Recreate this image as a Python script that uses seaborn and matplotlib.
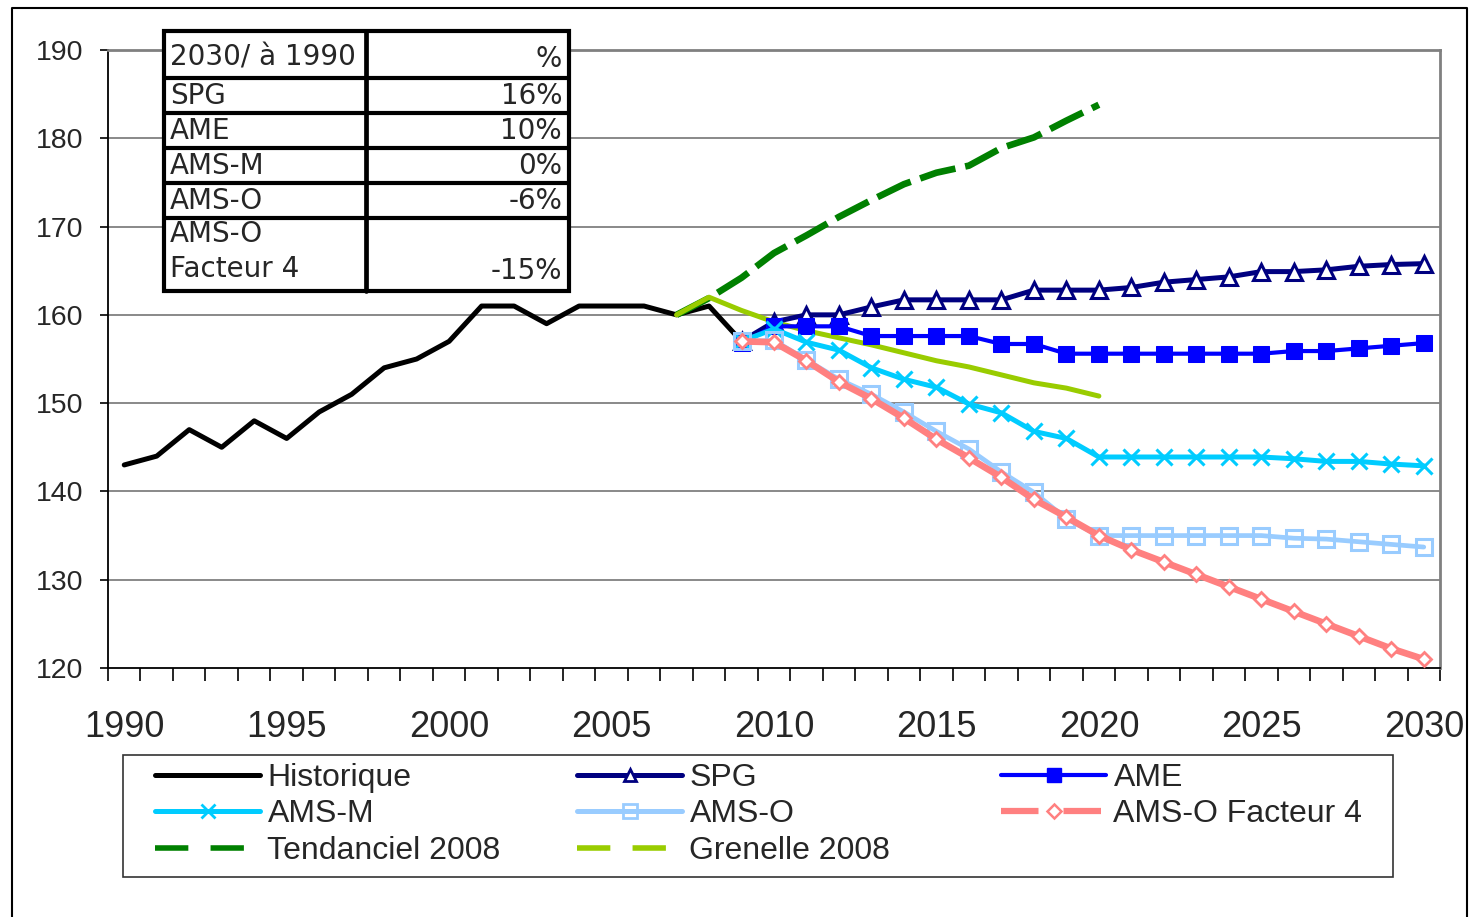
import numpy as np
import pandas as pd
import matplotlib
matplotlib.use("Agg")
import matplotlib.pyplot as plt
from matplotlib.lines import Line2D
from matplotlib.patches import Rectangle
import seaborn as sns

# ---------------- data ----------------
hist_years = list(range(1990, 2010))
historique = [143, 144, 147, 145, 148, 146, 149, 151, 154, 155,
              157, 161, 161, 159, 161, 161, 161, 160, 161, 157]

trend_years = list(range(2007, 2021))
tendanciel = [160, 161.9, 164.2, 167, 169, 171.1, 173, 174.8, 176.1, 176.9,
              178.9, 180.1, 182, 183.8]
grenelle = [160, 162, 160.5, 159.2, 158.2, 157.4, 156.6, 155.7, 154.8, 154.1,
            153.2, 152.3, 151.7, 150.8]

scen_years = list(range(2009, 2031))
spg = [157, 159.2, 160, 160, 160.9, 161.7, 161.7, 161.7, 161.7, 162.8, 162.8,
       162.8, 163.1, 163.7, 164, 164.3, 164.9, 164.9, 165.1, 165.5, 165.7, 165.8]
ame = [156.8, 158.7, 158.7, 158.7, 157.6, 157.6, 157.6, 157.6, 156.7, 156.7, 155.6,
       155.6, 155.6, 155.6, 155.6, 155.6, 155.6, 155.9, 155.9, 156.2, 156.5, 156.8]
ams_m = [157, 158.4, 156.9, 156.0, 154.0, 152.7, 151.8, 149.9, 148.9, 146.8, 146.0,
         143.9, 143.9, 143.9, 143.9, 143.9, 143.9, 143.7, 143.4, 143.4, 143.1, 142.9]
ams_o = [157, 157.1, 154.9, 152.7, 151.0, 149.0, 146.8, 144.8, 142.2, 139.9, 136.9,
         135.0, 135.0, 135.0, 135.0, 135.0, 135.0, 134.7, 134.6, 134.3, 134.0, 133.7]
facteur4 = [157, 156.9, 154.8, 152.4, 150.5, 148.3, 145.9, 143.8, 141.6, 139.1, 137.1,
            135.0, 133.4, 132.0, 130.6, 129.2, 127.8, 126.4, 125.0, 123.6, 122.2, 121.0]

table_header = ["2030/ à 1990", "%"]
table_rows = ["SPG", "AME", "AMS-M", "AMS-O", "AMS-O\nFacteur 4"]
table_vals = ["16%", "10%", "0%", "-6%", "-15%"]

x_ticks = list(range(1990, 2031, 5))
y_ticks = list(range(120, 191, 10))

# ---------------- style ----------------
sns.set_style("white")
plt.rcParams["font.family"] = ["Liberation Sans", "DejaVu Sans"]

W, H = 1472, 917
fig = plt.figure(figsize=(W / 100, H / 100), dpi=100)


def fx(px):
    return px / W


def fy(py):
    return 1 - py / H


ax = fig.add_axes([fx(108), fy(668), (1440 - 108) / W, (668 - 50) / H])

# gridlines
for v in y_ticks[1:]:
    ax.axhline(v, color="#808080", lw=1.3, zorder=0.5)

# ---------------- series ----------------
df_hist = pd.DataFrame({"year": hist_years, "v": historique})
df_trend = pd.DataFrame({"year": trend_years, "tend": tendanciel, "gren": grenelle})
df_scen = pd.DataFrame({"year": scen_years, "spg": spg, "ame": ame, "amsm": ams_m,
                        "amso": ams_o, "f4": facteur4})

sns.lineplot(data=df_hist, x="year", y="v", color="black", lw=3.6, ax=ax, zorder=3)
sns.lineplot(data=df_trend, x="year", y="tend", color="#008000", lw=4.8,
             linestyle=(0, (5.5, 1.5)), ax=ax, zorder=3)
sns.lineplot(data=df_trend, x="year", y="gren", color="#99CC00", lw=3.6, ax=ax, zorder=3)
sns.lineplot(data=df_scen, x="year", y="spg", color="#000080", lw=3.6, marker="^",
             markersize=11.5, markerfacecolor="white", markeredgecolor="#000080",
             markeredgewidth=2.2, ax=ax, zorder=4)
sns.lineplot(data=df_scen, x="year", y="ame", color="#0000FF", lw=3.0, marker="s",
             markersize=11, markerfacecolor="#0000FF", markeredgecolor="#0000FF",
             ax=ax, zorder=4)
sns.lineplot(data=df_scen, x="year", y="amsm", color="#00CCFF", lw=3.6, marker="x",
             markersize=12, markeredgecolor="#00CCFF", markeredgewidth=2.2,
             ax=ax, zorder=4)
sns.lineplot(data=df_scen, x="year", y="amso", color="#99CCFF", lw=3.4, marker="s",
             markersize=11.5, markerfacecolor="none", markeredgecolor="#99CCFF",
             markeredgewidth=2.2, ax=ax, zorder=4)
sns.lineplot(data=df_scen, x="year", y="f4", color="#FF8080", lw=4.8, marker="D",
             markersize=7.5, markerfacecolor="white", markeredgecolor="#FF8080",
             markeredgewidth=2.0, ax=ax, zorder=5)

# ---------------- axes ----------------
ax.set_xlim(1989.5, 2030.5)
ax.set_ylim(120, 190)
ax.set_xlabel("")
ax.set_ylabel("")
ax.set_yticks(y_ticks)
ax.set_yticklabels([str(v) for v in y_ticks], fontsize=20.5)
ax.set_xticks(x_ticks)
ax.set_xticklabels([str(v) for v in x_ticks], fontsize=26)
ax.set_xticks(np.arange(1989.5, 2031, 1), minor=True)
ax.tick_params(axis="x", which="major", length=0, pad=30)
ax.tick_params(axis="x", which="minor", length=9, width=1.2, color="black",
               direction="out", bottom=True)
ax.tick_params(axis="y", which="major", length=6, width=1.2, color="black",
               direction="out", left=True, pad=12)
for s in ["left", "bottom"]:
    ax.spines[s].set_color("black")
    ax.spines[s].set_linewidth(1.3)
for s in ["right", "top"]:
    ax.spines[s].set_color("#808080")
    ax.spines[s].set_linewidth(2)
ax.grid(False)

# ---------------- legend ----------------
def h(color, lw, ls="-", **kw):
    return Line2D([], [], color=color, lw=lw, linestyle=ls, **kw)


col1 = [h("black", 3.6),
        h("#00CCFF", 3.6, marker="x", markersize=10, markeredgewidth=2),
        h("#008000", 4.0, ls=(0, (6, 4)))]
lab1 = ["Historique", "AMS-M", "Tendanciel 2008"]
col2 = [h("#000080", 3.6, marker="^", markersize=9, markerfacecolor="white",
          markeredgewidth=2),
        h("#99CCFF", 3.6, marker="s", markersize=10, markerfacecolor="none",
          markeredgewidth=2),
        h("#99CC00", 4.0, ls=(0, (6, 4)))]
lab2 = ["SPG", "AMS-O", "Grenelle 2008"]
col3 = [h("#0000FF", 3.0, marker="s", markersize=10),
        h("#FF8080", 4.5, ls=(0, (6, 4)), marker="D", markersize=7,
          markerfacecolor="white", markeredgewidth=1.8)]
lab3 = ["AME", "AMS-O Facteur 4"]

for hs, ls_, x0 in [(col1, lab1, 155), (col2, lab2, 577), (col3, lab3, 1001)]:
    fig.legend(hs, ls_, loc="upper left", bbox_to_anchor=(fx(x0), fy(763)),
               frameon=False, borderpad=0, borderaxespad=0, fontsize=23,
               handlelength=3.3, handletextpad=0.22, labelspacing=0.2)

fig.patches.append(Rectangle((fx(123), fy(877)), fx(1393) - fx(123), fy(755) - fy(877),
                             transform=fig.transFigure, fill=False,
                             edgecolor="#333333", lw=1.2))

# ---------------- inset table ----------------
tx0, txm, tx1 = 164, 366, 569
row_y = [31, 78, 113, 148, 183, 218, 291]
fig.patches.append(Rectangle((fx(tx0), fy(row_y[-1])), fx(tx1) - fx(tx0),
                             fy(row_y[0]) - fy(row_y[-1]), transform=fig.transFigure,
                             facecolor="white", edgecolor="black", lw=3, zorder=10))
for yy in row_y[1:-1]:
    fig.add_artist(Line2D([fx(tx0), fx(tx1)], [fy(yy), fy(yy)], color="black", lw=3,
                          transform=fig.transFigure, zorder=11))
fig.add_artist(Line2D([fx(txm), fx(txm)], [fy(row_y[0]), fy(row_y[-1])], color="black",
                      lw=3.4, transform=fig.transFigure, zorder=11))

tfs = 20
tfam = ["DejaVu Sans"]
kw = dict(fontsize=tfs, family=tfam, va="center", zorder=12)
fig.text(fx(170), fy(57), table_header[0], ha="left", **kw)
fig.text(fx(562), fy(59), table_header[1], ha="right", **kw)
text_y = [96, 131, 166, 201]
for name, val, yy in zip(table_rows[:4], table_vals[:4], text_y):
    fig.text(fx(170), fy(yy), name, ha="left", **kw)
    fig.text(fx(562), fy(yy), val, ha="right", **kw)
l1, l2 = table_rows[4].split("\n")
fig.text(fx(170), fy(234), l1, ha="left", **kw)
fig.text(fx(170), fy(269), l2, ha="left", **kw)
fig.text(fx(562), fy(271), table_vals[4], ha="right", **kw)

# ---------------- outer frame ----------------
fig.add_artist(Line2D([fx(12), fx(12), fx(1467), fx(1467)], [0, fy(8), fy(8), 0],
                      color="black", lw=1.5, transform=fig.transFigure))

fig.savefig("out.png", dpi=100)
